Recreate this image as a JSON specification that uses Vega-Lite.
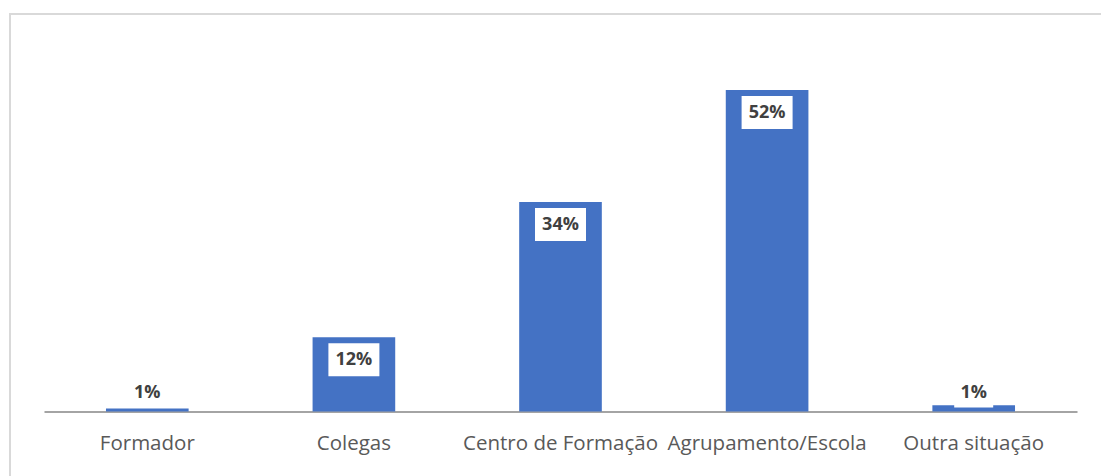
{
  "$schema": "https://vega.github.io/schema/vega-lite/v6.json",
  "autosize": "none",
  "width": 1100,
  "height": 476,
  "padding": {"left": 10, "top": 14, "right": 0, "bottom": 0},
  "background": "white",
  "config": {
    "view": {"stroke": "#d9d9d9", "strokeWidth": 2},
    "font": "Open Sans"
  },
  "data": {
    "values": [
      {"cat": "Formador", "value": 0.5, "label": "1%"},
      {"cat": "Colegas", "value": 12, "label": "12%"},
      {"cat": "Centro de Formação", "value": 33.9, "label": "34%"},
      {"cat": "Agrupamento/Escola", "value": 52, "label": "52%"},
      {"cat": "Outra situação", "value": 1.0, "label": "1%"}
    ]
  },
  "encoding": {
    "x": {
      "field": "cat",
      "type": "nominal",
      "sort": null,
      "scale": {"range": [34, 1067], "paddingInner": 0.6, "paddingOuter": 0.3},
      "axis": {
        "title": null,
        "orient": "bottom",
        "offset": -78.5,
        "labelAngle": 0,
        "ticks": false,
        "domainColor": "#868686",
        "domainWidth": 1.5,
        "labelColor": "#595959",
        "labelFont": "Open Sans",
        "labelFontSize": 20.5,
        "labelPadding": 22,
        "labelLimit": 0,
        "labelOverlap": false
      }
    }
  },
  "layer": [
    {
      "mark": {"type": "bar", "color": "#4472C4"},
      "encoding": {
        "y": {
          "field": "value",
          "type": "quantitative",
          "scale": {"domain": [0, 52], "range": [397.5, 76], "nice": false, "zero": true},
          "axis": null
        }
      }
    },
    {
      "transform": [{"filter": "datum.value >= 5"}],
      "mark": {"type": "point", "shape": "M-1,-0.647H1V0.647H-1Z", "size": 2601, "filled": true, "fill": "white", "opacity": 1, "strokeWidth": 0, "yOffset": 22.5},
      "encoding": {"y": {"field": "value", "type": "quantitative"}}
    },
    {
      "transform": [{"filter": "datum.value >= 5"}],
      "mark": {"type": "text", "font": "Open Sans", "fontWeight": "bold", "fontSize": 18, "color": "#404040", "baseline": "middle", "dy": 23},
      "encoding": {"y": {"field": "value", "type": "quantitative"}, "text": {"field": "label"}}
    },
    {
      "transform": [{"filter": "datum.value < 5"}],
      "mark": {"type": "point", "shape": "M-1,-0.846H1V0.846H-1Z", "size": 1521, "filled": true, "fill": "white", "opacity": 1, "strokeWidth": 0, "yOffset": -20.5},
      "encoding": {"y": {"datum": 0, "type": "quantitative"}}
    },
    {
      "transform": [{"filter": "datum.value < 5"}],
      "mark": {"type": "text", "font": "Open Sans", "fontWeight": "bold", "fontSize": 18, "color": "#404040", "baseline": "middle", "dy": -18.5},
      "encoding": {"y": {"datum": 0, "type": "quantitative"}, "text": {"field": "label"}}
    }
  ]
}
